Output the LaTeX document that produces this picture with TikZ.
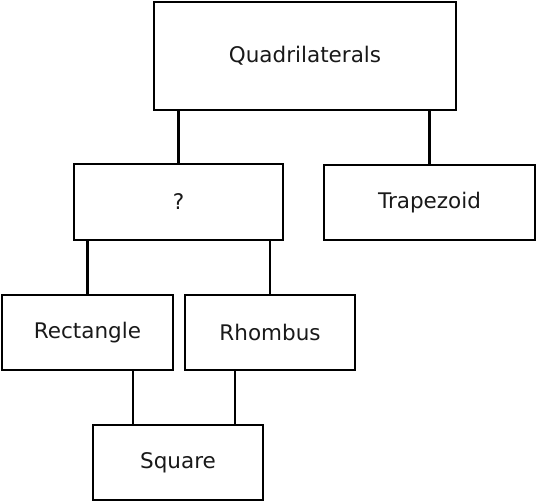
\documentclass[tikz,border=0pt]{standalone}
\usepackage{fontspec}
\setmainfont{DejaVu Sans}
\begin{document}
\begin{tikzpicture}[x=1pt,y=-1pt,line width=2.5pt,
	hop/.style={draw,rectangle,inner sep=0pt,font=\fontsize{21.5}{26}\selectfont,text=black!90}]
	\useasboundingbox (0,0) rectangle (536,503);
	% các hộp
	\node[hop,minimum width=302pt,minimum height=108pt] (quad) at (305,56) {Quadrilaterals};
	\node[hop,minimum width=209pt,minimum height=76pt] (hoi) at (178.5,202) {?};
	\node[hop,minimum width=211pt,minimum height=75pt] (trap) at (429.5,202.5) {Trapezoid};
	\node[hop,minimum width=171pt,minimum height=75pt] (rect) at (87.5,332.5) {Rectangle};
	\node[hop,minimum width=170pt,minimum height=75pt] (rhom) at (270,332.5) {Rhombus};
	\node[hop,minimum width=170pt,minimum height=75pt] (sq) at (178,462.5) {Square};
	% các đoạn nối
	\draw (hoi.north) -- (hoi.north |- quad.south);
	\draw (trap.north) -- (trap.north |- quad.south);
	\draw (rect.north) -- (rect.north |- hoi.south);
	\draw (rhom.north) -- (rhom.north |- hoi.south);
	\draw ([xshift=-45pt]sq.north) -- ([xshift=-45pt]sq.north |- rect.south);
	\draw ([xshift=57pt]sq.north) -- ([xshift=57pt]sq.north |- rhom.south);
\end{tikzpicture}
\end{document}
